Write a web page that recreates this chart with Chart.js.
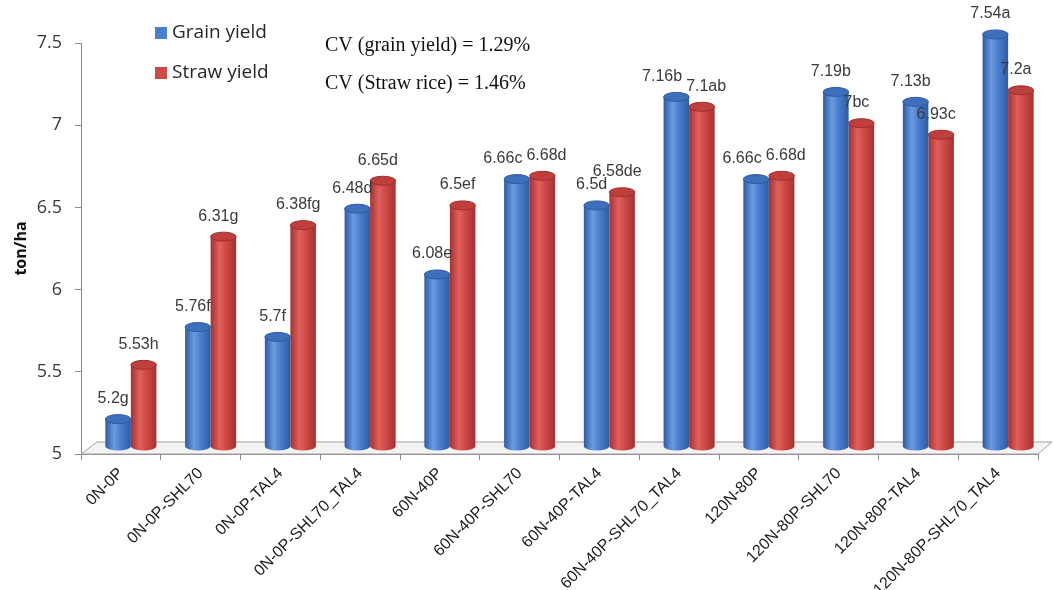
<!DOCTYPE html>
<html>
<head>
<meta charset="utf-8">
<title>Grain and straw yield</title>
<script src="https://cdn.jsdelivr.net/npm/chart.js@4.4.1/dist/chart.umd.min.js"></script>
<style>
  html, body { margin: 0; padding: 0; background: #fff; }
  #wrap { width: 1053px; height: 590px; position: relative; }
</style>
</head>
<body>
<div id="wrap"><canvas id="yieldChart"></canvas></div>
<script>
const treatments = ['0N-0P', '0N-0P-SHL70', '0N-0P-TAL4', '0N-0P-SHL70_TAL4', '60N-40P', '60N-40P-SHL70',
  '60N-40P-TAL4', '60N-40P-SHL70_TAL4', '120N-80P', '120N-80P-SHL70', '120N-80P-TAL4', '120N-80P-SHL70_TAL4'];
const grainYield = [5.2, 5.76, 5.7, 6.48, 6.08, 6.66, 6.5, 7.16, 6.66, 7.19, 7.13, 7.54];
const strawYield = [5.53, 6.31, 6.38, 6.65, 6.5, 6.68, 6.58, 7.1, 6.68, 7, 6.93, 7.2];
const grainLetters = ['g', 'f', 'f', 'd', 'e', 'c', 'd', 'b', 'c', 'b', 'b', 'a'];
const strawLetters = ['h', 'g', 'fg', 'd', 'ef', 'd', 'de', 'ab', 'd', 'bc', 'c', 'a'];
const seriesNames = ['Grain yield', 'Straw yield'];
const cvNotes = ['CV (grain yield) = 1.29%', 'CV (Straw rice) = 1.46%'];

// cylinder shading for each series
const palette = [
  { key: '#4a7fcf', dark: '#2d5ba3', light: '#6b9be0', cap: '#3e6fbd', rim: '#2f5a9c' },
  { key: '#d04a47', dark: '#a33230', light: '#e0605c', cap: '#bf3f3c', rim: '#9c2f2d' }
];

// 3D look: bars sit in the middle of the floor, shifted right/up
const DX = 10, TOP_DY = -2, BASE_DY = -8, RY = 4.5;
const FLOOR_X = 16, FLOOR_Y = 12;

const floorPlugin = {
  id: 'floor',
  beforeDatasetsDraw(chart) {
    const { ctx, chartArea: a } = chart;
    ctx.save();
    ctx.beginPath();
    ctx.moveTo(a.left, a.bottom);
    ctx.lineTo(a.right, a.bottom);
    ctx.lineTo(a.right + FLOOR_X - 2, a.bottom - FLOOR_Y);
    ctx.lineTo(a.left + FLOOR_X, a.bottom - FLOOR_Y);
    ctx.closePath();
    ctx.fillStyle = '#f3f3f3';
    ctx.fill();
    ctx.strokeStyle = '#a0a0a0';
    ctx.lineWidth = 1;
    ctx.stroke();
    ctx.restore();
  }
};

const cylinderPlugin = {
  id: 'cylinders',
  afterDatasetDraw(chart, args) {
    const ctx = chart.ctx;
    const c = palette[args.index];
    const yScale = chart.scales.y;
    const floorY = yScale.getPixelForValue(yScale.min);
    ctx.save();
    args.meta.data.forEach(bar => {
      const p = bar.getProps(['x', 'y', 'width'], true);
      const cx = p.x + DX, rx = p.width / 2;
      const top = p.y + TOP_DY, bottom = floorY + BASE_DY;
      const g = ctx.createLinearGradient(cx - rx, 0, cx + rx, 0);
      g.addColorStop(0, c.dark);
      g.addColorStop(0.35, c.light);
      g.addColorStop(0.6, c.key);
      g.addColorStop(1, c.dark);
      ctx.beginPath();
      ctx.moveTo(cx - rx, top);
      ctx.lineTo(cx - rx, bottom);
      ctx.ellipse(cx, bottom, rx, RY, 0, Math.PI, 0, true);
      ctx.lineTo(cx + rx, top);
      ctx.closePath();
      ctx.fillStyle = g;
      ctx.fill();
      ctx.beginPath();
      ctx.ellipse(cx, top, rx, RY, 0, 0, Math.PI * 2);
      ctx.fillStyle = c.cap;
      ctx.fill();
      ctx.strokeStyle = c.rim;
      ctx.lineWidth = 1;
      ctx.stroke();
    });
    ctx.restore();
  }
};

const labelPlugin = {
  id: 'valueLabels',
  afterDatasetsDraw(chart) {
    const ctx = chart.ctx;
    ctx.save();
    ctx.font = '16px "Liberation Sans", Arial, sans-serif';
    ctx.fillStyle = '#3a3a3a';
    ctx.textAlign = 'center';
    ctx.textBaseline = 'middle';
    const gBars = chart.getDatasetMeta(0).data;
    const sBars = chart.getDatasetMeta(1).data;
    const place = (bar, text) => ({
      text,
      x: bar.x + DX - 5,
      y: bar.y + TOP_DY - RY - 16,
      w: ctx.measureText(text).width
    });
    treatments.forEach((_, i) => {
      const a = place(gBars[i], grainYield[i] + grainLetters[i]);
      const b = place(sBars[i], strawYield[i] + strawLetters[i]);
      const need = (a.w + b.w) / 2 + 4;
      if (Math.abs(a.y - b.y) < 13 && b.x - a.x < need) {
        const push = (need - (b.x - a.x)) / 2;
        a.x -= push;
        b.x += push;
      }
      ctx.fillText(a.text, a.x, a.y);
      ctx.fillText(b.text, b.x, b.y);
    });
    ctx.restore();
  }
};

const notesPlugin = {
  id: 'notes',
  afterDraw(chart) {
    const ctx = chart.ctx;
    ctx.save();
    ctx.textBaseline = 'middle';
    ctx.textAlign = 'left';
    ctx.font = '19px "Open Sans", sans-serif';
    seriesNames.forEach((name, i) => {
      const y = 33 + i * 40;
      ctx.fillStyle = palette[i].key;
      ctx.fillRect(155, y - 6, 12, 12);
      ctx.fillStyle = '#262626';
      ctx.fillText(name, 172, y);
    });
    ctx.font = '20px "Liberation Serif", "Times New Roman", serif';
    ctx.fillStyle = '#111';
    cvNotes.forEach((note, i) => {
      ctx.fillText(note, 325, 46 + i * 38);
    });
    ctx.restore();
  }
};

const ctx = document.getElementById('yieldChart').getContext('2d');
new Chart(ctx, {
  type: 'bar',
  data: {
    labels: treatments,
    datasets: [
      { label: seriesNames[0], data: grainYield, backgroundColor: 'rgba(0,0,0,0)', borderWidth: 0 },
      { label: seriesNames[1], data: strawYield, backgroundColor: 'rgba(0,0,0,0)', borderWidth: 0 }
    ]
  },
  options: {
    responsive: true,
    maintainAspectRatio: false,
    animation: false,
    layout: { padding: { top: 43, right: 15, left: 0, bottom: 0 } },
    datasets: { bar: { categoryPercentage: 0.64, barPercentage: 1 } },
    plugins: {
      legend: { display: false },
      tooltip: { enabled: false }
    },
    scales: {
      x: {
        afterFit(scale) { scale.height = 136; },
        grid: { drawOnChartArea: false, tickLength: 6, color: '#8c8c8c' },
        border: { color: '#8c8c8c' },
        ticks: {
          autoSkip: false,
          minRotation: 45,
          maxRotation: 45,
          padding: 4,
          color: '#1a1a1a',
          font: { family: '"Liberation Sans", Arial, sans-serif', size: 16 }
        }
      },
      y: {
        min: 5,
        max: 7.5,
        afterFit(scale) { scale.width = 81; },
        grid: { drawOnChartArea: false, tickLength: 6, color: '#8c8c8c' },
        border: { color: '#8c8c8c' },
        ticks: {
          stepSize: 0.5,
          padding: 13,
          color: '#3a3a3a',
          font: { family: '"Open Sans", sans-serif', size: 18 },
          callback: v => String(+v.toFixed(1))
        },
        title: {
          display: true,
          text: 'ton/ha',
          color: '#111',
          padding: { top: 12, bottom: 0 },
          font: { family: '"Open Sans", sans-serif', size: 16, weight: 'bold' }
        }
      }
    }
  },
  plugins: [floorPlugin, cylinderPlugin, labelPlugin, notesPlugin]
});
</script>
</body>
</html>
